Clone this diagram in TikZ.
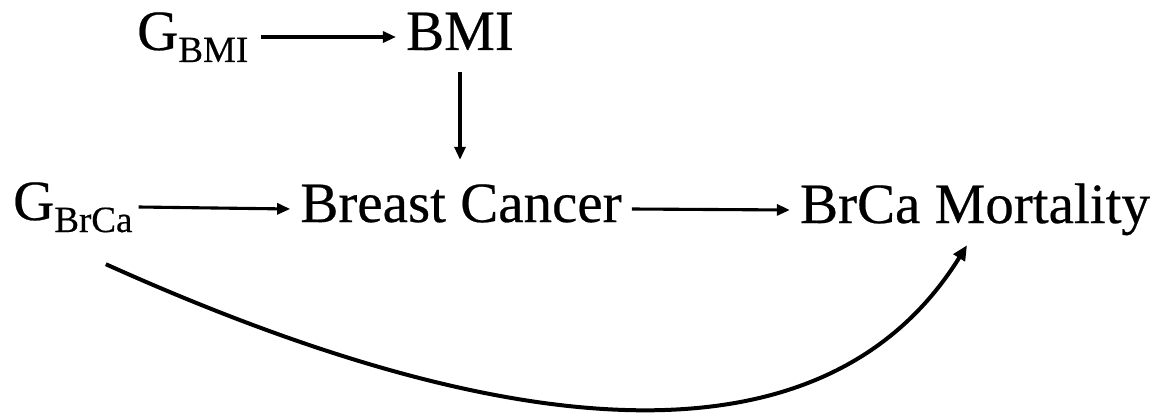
\documentclass[tikz,border=0pt]{standalone}
\usepackage{fontspec}
\setmainfont[FakeBold=0.4]{Liberation Serif}
\usetikzlibrary{arrows.meta}
\newcommand{\mysub}[1]{\raisebox{-12pt}{\fontsize{37}{40}\selectfont #1}}
\tikzset{
  txt/.style={inner xsep=10pt, inner ysep=0pt, text height=26pt, text depth=0pt,
    font=\fontsize{57}{60}\selectfont},
  arr/.style={line width=3.1pt, -{Triangle[length=13pt,width=11pt]}},
  curvearr/.style={line width=4pt, -{Triangle[length=15pt,width=13pt]}}
}
\begin{document}
\begin{tikzpicture}[x=1pt,y=1pt]
\useasboundingbox (0,0) rectangle (1173,416);
\node[txt, anchor=base west, inner xsep=0pt] (gbmi) at (137,366) {G\mysub{BMI}};
\node[txt, anchor=base] (bmi) at (460,366) {BMI};
\node[txt, anchor=base west, inner xsep=0pt] (gbrca) at (13,196) {G\mysub{BrCa}};
\node[txt, anchor=base] (bc) at (461,194) {Breast Cancer};
\node[txt, anchor=base] (mort) at (975,193) {BrCa Mortality};
\draw[arr] ([xshift=13pt]gbmi.east) -- (bmi.west);
\draw[arr, shorten <=22pt, shorten >=36pt] (bmi.south) -- (bmi.south |- bc.north);
\draw[arr] ([xshift=6pt]gbrca.east) -- (bc.west);
\draw[arr] (bc.east) -- (mort.west);
\draw[curvearr] ([xshift=33pt,yshift=-44pt]gbrca.south) .. controls +(382,-172) and +(-148,-238) .. ([xshift=-8pt,yshift=-22pt]mort.south);
\end{tikzpicture}
\end{document}
